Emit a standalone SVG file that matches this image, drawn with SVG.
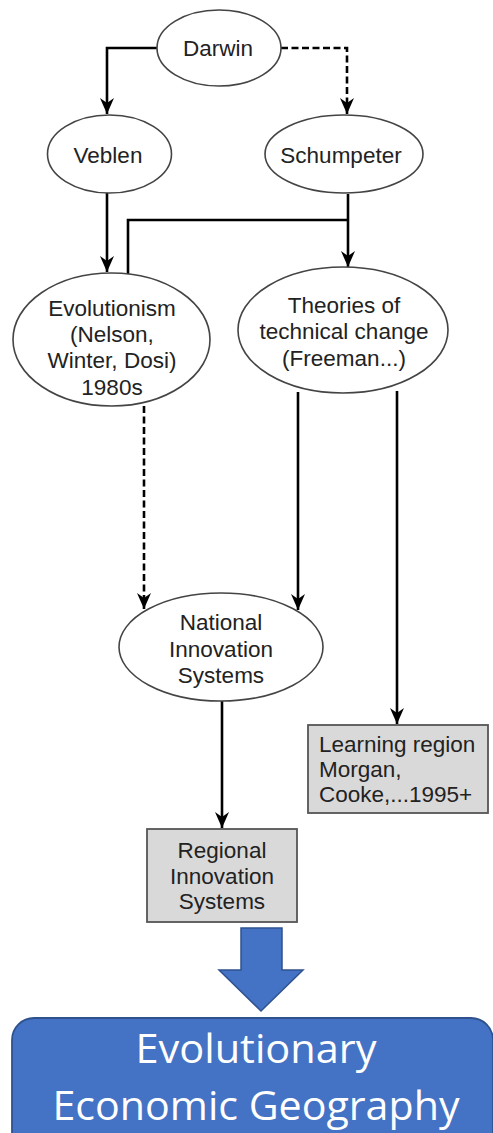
<svg xmlns="http://www.w3.org/2000/svg" width="493" height="1133" viewBox="0 0 493 1133">
<style>
.node ellipse{fill:#fff;stroke:#444;stroke-width:1.6}
.box rect{fill:#d9d9d9;stroke:#555;stroke-width:1.8}
.t{font-family:"Liberation Sans",Arial,sans-serif;font-size:22.5px;fill:#222;text-anchor:middle}
.tl{font-family:"Liberation Sans",Arial,sans-serif;font-size:22.5px;fill:#222}
.c{fill:none;stroke:#000;stroke-width:2.6}
.d{stroke-dasharray:7 3.5}
.big{font-family:"Open Sans","Liberation Sans",sans-serif;font-size:41px;fill:#fff;text-anchor:middle}
</style>
<defs>
<marker id="ah" markerUnits="userSpaceOnUse" markerWidth="17" markerHeight="14" refX="16" refY="7" orient="auto" viewBox="0 0 17 14">
<path d="M0,0 L16,7 L0,14 L5,7 z" fill="#000"/>
</marker>
</defs>
<rect width="493" height="1133" fill="#fff"/>
<g id="connectors">
<path class="c" d="M157,48 H107 V114" marker-end="url(#ah)"/>
<path class="c d" d="M281,48 H347 V114" marker-end="url(#ah)"/>
<path class="c" d="M107,193 V272" marker-end="url(#ah)"/>
<path class="c" d="M348,194 V267" marker-end="url(#ah)"/>
<path class="c" d="M348,220 H128 V274"/>
<path class="c d" d="M144,406 V609" marker-end="url(#ah)"/>
<path class="c" d="M298,392 V610" marker-end="url(#ah)"/>
<path class="c" d="M397,391 V724" marker-end="url(#ah)"/>
<path class="c" d="M222,701 V828" marker-end="url(#ah)"/>
</g>
<g id="darwin" class="node"><ellipse cx="219" cy="48" rx="62" ry="38"/><text class="t" x="218" y="56">Darwin</text></g>
<g id="veblen" class="node"><ellipse cx="109.5" cy="154" rx="62" ry="39"/><text class="t" x="108" y="163">Veblen</text></g>
<g id="schumpeter" class="node"><ellipse cx="344" cy="154" rx="79" ry="39"/><text class="t" x="341" y="163">Schumpeter</text></g>
<g id="evolutionism" class="node"><ellipse cx="111.5" cy="339.5" rx="98.5" ry="66.5"/>
<text class="t" x="112" y="316">Evolutionism</text><text class="t" x="112" y="342">(Nelson,</text><text class="t" x="112" y="368">Winter, Dosi)</text><text class="t" x="112" y="395">1980s</text></g>
<g id="theories" class="node"><ellipse cx="343" cy="330" rx="105" ry="63"/>
<text class="t" x="344" y="313">Theories of</text><text class="t" x="344" y="339">technical change</text><text class="t" x="344" y="366">(Freeman...)</text></g>
<g id="nis" class="node"><ellipse cx="221" cy="647" rx="102" ry="54"/>
<text class="t" x="221" y="630">National</text><text class="t" x="221" y="657">Innovation</text><text class="t" x="221" y="683">Systems</text></g>
<g id="learning" class="box"><rect x="308" y="725" width="180" height="88"/>
<text class="tl" x="319" y="752">Learning region</text><text class="tl" x="319" y="777">Morgan,</text><text class="tl" x="319" y="802">Cooke,...1995+</text></g>
<g id="ris" class="box"><rect x="147" y="829" width="150" height="93"/>
<text class="t" x="222" y="858">Regional</text><text class="t" x="222" y="884">Innovation</text><text class="t" x="222" y="909">Systems</text></g>
<g id="bigarrow"><polygon points="241,928 282,928 282,970 303,970 261,1011 219,970 241,970" fill="#4472C4" stroke="#2F528F" stroke-width="1.5"/></g>
<g id="eeg"><rect x="12" y="1018" width="481" height="140" rx="22" fill="#4472C4" stroke="#2F528F" stroke-width="1.8"/>
<text class="big" x="256" y="1063" textLength="241" lengthAdjust="spacingAndGlyphs">Evolutionary</text>
<text class="big" x="256" y="1120" textLength="407" lengthAdjust="spacingAndGlyphs">Economic Geography</text></g>
</svg>
